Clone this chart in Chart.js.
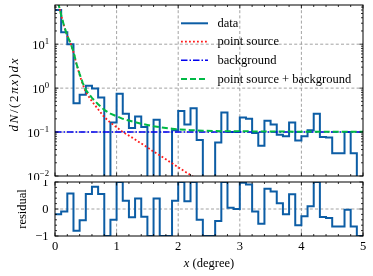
<!DOCTYPE html>
<html>
<head>
<meta charset="utf-8">
<script src="https://cdn.jsdelivr.net/npm/chart.js@4/dist/chart.umd.min.js"></script>
<style>
html, body { margin: 0; padding: 0; background: #fff; }
#wrap { position: relative; width: 373px; height: 276px; }
#top { position: absolute; left: 0; top: 0; }
#bot { position: absolute; left: 0; top: 180px; }
</style>
</head>
<body>
<div id="wrap">
	<canvas id="top" width="373" height="180"></canvas>
	<canvas id="bot" width="373" height="96"></canvas>
</div>
<script>
// radial profile: data histogram against point source + flat background

var binWidth = 0.1;
var nBins = 50;
// left edges of the bins, plus the last right edge
var binEdges = [];
for (var i = 0; i <= nBins; i++) binEdges.push(+(i * binWidth).toFixed(1));

// dN/(2 pi x)dx per bin (0 = empty bin)
var dataValues = [60, 18.7, 10, 0.45, 0.71, 1.14, 0.98, 0.61, 0, 0.166,
	0.74, 0.26, 0.123, 0.226, 0.13, 0, 0.19, 0, 0, 0.11,
	0.30, 0.148, 0.35, 0.066, 0, 0, 0.058, 0.28, 0.1, 0.1,
	0.215, 0.2, 0.095, 0.049, 0.18, 0.148, 0.087, 0.08, 0.166, 0.064,
	0.08, 0.11, 0.26, 0.077, 0.075, 0.033, 0.033, 0.1, 0.033, 0];

// residual per bin, clipped to [-1, 1]
var residualValues = [-0.19, -0.09, 0.57, -0.81, -0.42, 0.56, 0.82, 0.56, -1, -0.4,
	1, 0.31, -0.31, 0.39, -0.29, -1, 0.39, -1, -1, 0.31,
	1, 0.29, 1, -0.4, -1, -1, -0.44, 1, 0.05, 0,
	0.97, 0.91, -0.09, -0.55, 0.75, 0.65, 0.21, -0.19, 0.55, -0.6,
	-0.27, 0.1, 1, -0.3, -0.33, -0.65, -0.65, -0.03, -0.65, -1];

// point source model
var psX = [0, 0.05, 0.1, 0.15, 0.2, 0.25, 0.3, 0.35, 0.4, 0.45, 0.5, 0.55, 0.6, 0.7, 0.8, 0.9,
	1.0, 1.1, 1.2, 1.3, 1.4, 1.5, 1.6, 1.7, 1.8, 1.9, 2.0, 2.1, 2.2, 2.3, 2.4];
var psY = [140, 89, 46, 25, 15.5, 10.7, 6.6, 3.45, 2.0, 1.22, 0.81, 0.64, 0.5, 0.33, 0.22, 0.163,
	0.129, 0.1, 0.083, 0.068, 0.055, 0.045, 0.036, 0.0295, 0.024, 0.0195, 0.0158, 0.0129, 0.0105, 0.0085, 0.0069];

// background model
var bgX = [0, 5];
var bgY = [0.1, 0.1];

// point source + background
var totX = [0, 0.05, 0.1, 0.15, 0.2, 0.25, 0.3, 0.35, 0.4, 0.45, 0.5, 0.55, 0.6, 0.7, 0.8, 0.9,
	1.0, 1.1, 1.2, 1.3, 1.4, 1.5, 1.6, 1.7, 1.8, 1.9, 2.0, 2.2, 2.4, 2.7, 3.0, 3.5, 4.0, 4.5, 5.0];
var totY = [140.1, 89.1, 46.1, 25.1, 15.6, 10.8, 6.7, 3.55, 2.1, 1.32, 0.91, 0.74, 0.6, 0.43, 0.32, 0.263,
	0.229, 0.2, 0.183, 0.168, 0.155, 0.145, 0.136, 0.1295, 0.124, 0.1195, 0.1158, 0.1105, 0.107, 0.105, 0.104, 0.103, 0.102, 0.1015, 0.101];

var xTickLabels = ['0', '1', '2', '3', '4', '5'];

var SERIF = '"Liberation Serif", "Times New Roman", serif';
var FS = 12.5;
var C_DATA = '#0C5DA5', C_PS = '#ff1a1a', C_BG = '#0000ee', C_TOT = '#00B945';

function fnt(size, italic) { return (italic ? 'italic ' : '') + size + 'px ' + SERIF; }

function stepPoints(values, floor) {
	var pts = values.map(function (v, i) {
		return { x: binEdges[i], y: (floor !== undefined && v <= 0) ? floor : v };
	});
	pts.push({ x: binEdges[nBins], y: pts[pts.length - 1].y });
	return pts;
}

function zip(xs, ys) { return xs.map(function (x, i) { return { x: x, y: ys[i] }; }); }

// tick positions
var xMajor = [0, 1, 2, 3, 4, 5];
var xMinor = [];
for (var k = 0; k <= 25; k++) { var v = +(k * 0.2).toFixed(1); if (xMajor.indexOf(v) < 0) xMinor.push(v); }
var logMajor = [0.01, 0.1, 1, 10];
var logMinor = [];
[0.01, 0.1, 1, 10].forEach(function (d) { for (var m = 2; m <= 9; m++) if (m * d <= 78) logMinor.push(m * d); });
var resMajor = [-1, 0, 1];
var resMinor = [-0.8, -0.6, -0.4, -0.2, 0.2, 0.4, 0.6, 0.8];

function drawGrid(chart, xs, ys) {
	var ctx = chart.ctx, a = chart.chartArea;
	ctx.save();
	ctx.strokeStyle = '#8c8c8c';
	ctx.lineWidth = 0.8;
	ctx.setLineDash([3, 2.2]);
	ctx.beginPath();
	xs.forEach(function (v) { var p = chart.scales.x.getPixelForValue(v); ctx.moveTo(p, a.top); ctx.lineTo(p, a.bottom); });
	ys.forEach(function (v) { var p = chart.scales.y.getPixelForValue(v); ctx.moveTo(a.left, p); ctx.lineTo(a.right, p); });
	ctx.stroke();
	ctx.restore();
}

function drawFrame(chart, yMaj, yMin) {
	var ctx = chart.ctx, a = chart.chartArea, sx = chart.scales.x, sy = chart.scales.y;
	ctx.save();
	ctx.strokeStyle = '#000';
	ctx.lineWidth = 0.8;
	ctx.beginPath();
	function tv(p, len) { ctx.moveTo(p, a.bottom); ctx.lineTo(p, a.bottom - len); ctx.moveTo(p, a.top); ctx.lineTo(p, a.top + len); }
	function th(p, len) { ctx.moveTo(a.left, p); ctx.lineTo(a.left + len, p); ctx.moveTo(a.right, p); ctx.lineTo(a.right - len, p); }
	xMajor.forEach(function (v) { tv(sx.getPixelForValue(v), 3.5); });
	xMinor.forEach(function (v) { tv(sx.getPixelForValue(v), 2); });
	yMaj.forEach(function (v) { th(sy.getPixelForValue(v), 3.5); });
	yMin.forEach(function (v) { th(sy.getPixelForValue(v), 2); });
	ctx.stroke();
	ctx.lineWidth = 1;
	ctx.strokeRect(a.left, a.top, a.right - a.left, a.bottom - a.top);
	ctx.restore();
}

// text made of runs [text, italic, size, rise, extra gap after]
function runsWidth(ctx, runs) {
	var w = 0;
	runs.forEach(function (r) { ctx.font = fnt(r[2] || FS, r[1]); w += ctx.measureText(r[0]).width + (r[4] || 0); });
	return w;
}
function drawRuns(ctx, runs, x0, base) {
	var x = x0;
	runs.forEach(function (r) {
		ctx.font = fnt(r[2] || FS, r[1]);
		ctx.fillText(r[0], x, base - (r[3] || 0));
		x += ctx.measureText(r[0]).width + (r[4] || 0);
	});
}

var topPlugin = {
	id: 'topDecor',
	beforeDatasetsDraw: function (chart) { drawGrid(chart, [1, 2, 3, 4], [0.1, 1, 10]); },
	afterDatasetsDraw: function (chart) {
		var ctx = chart.ctx, sy = chart.scales.y;
		drawFrame(chart, logMajor, logMinor);
		ctx.save();
		ctx.fillStyle = '#000';
		ctx.textBaseline = 'alphabetic';
		ctx.textAlign = 'left';
		// y tick labels 10^n
		var exps = ['\u22122', '\u22121', '0', '1'];
		logMajor.forEach(function (v, i) {
			var p = sy.getPixelForValue(v);
			var runs = [['10', false, FS, 0], [exps[i], false, FS * 0.7, 5]];
			var w = runsWidth(ctx, runs);
			drawRuns(ctx, runs, 49 - w, p + 4.5);
		});
		// y title, spread to the reference length
		ctx.save();
		ctx.translate(14, 95);
		ctx.rotate(-Math.PI / 2);
		var yt = [['d', true, 13], ['N', true, 13], ['/', false, 13], ['(', false, 13], ['2', false, 13],
			['\u03c0', true, 13], ['x', true, 13], [')', false, 13], ['d', true, 13], ['x', true, 13]];
		var tw = runsWidth(ctx, yt);
		var gap = Math.max(0, (73 - tw) / (yt.length - 1));
		yt.forEach(function (r, j) { if (j < yt.length - 1) r[4] = gap; });
		tw = runsWidth(ctx, yt);
		drawRuns(ctx, yt, -tw / 2, 4);
		ctx.restore();
		// legend
		var items = [
			['data', C_DATA, 2, []],
			['point source', C_PS, 1.8, [1.8, 2.2]],
			['background', C_BG, 1.6, [6.5, 2, 1.5, 2]],
			['point source + background', C_TOT, 2, [6, 3]]
		];
		var rows = [23.3, 41.7, 60.3, 79];
		items.forEach(function (it, i) {
			ctx.save();
			ctx.strokeStyle = it[1];
			ctx.lineWidth = it[2];
			ctx.setLineDash(it[3]);
			ctx.beginPath();
			ctx.moveTo(181, rows[i]);
			ctx.lineTo(208, rows[i]);
			ctx.stroke();
			ctx.restore();
			ctx.font = fnt(FS, false);
			ctx.textBaseline = 'middle';
			ctx.fillText(it[0], 217.5, rows[i] + 0.5);
		});
		ctx.restore();
	}
};

var botPlugin = {
	id: 'botDecor',
	beforeDatasetsDraw: function (chart) { drawGrid(chart, [1, 2, 3, 4], [0]); },
	afterDatasetsDraw: function (chart) {
		var ctx = chart.ctx, sx = chart.scales.x, sy = chart.scales.y;
		drawFrame(chart, resMajor, resMinor);
		ctx.save();
		ctx.fillStyle = '#000';
		ctx.font = fnt(FS, false);
		ctx.textAlign = 'right';
		ctx.textBaseline = 'middle';
		['\u22121', '0', '1'].forEach(function (t, i) { ctx.fillText(t, 48.5, sy.getPixelForValue(resMajor[i]) + 0.5); });
		ctx.textAlign = 'center';
		ctx.textBaseline = 'alphabetic';
		xTickLabels.forEach(function (t, i) { ctx.fillText(t, sx.getPixelForValue(xMajor[i]), 69.5); });
		// x title
		ctx.textAlign = 'left';
		var xt = [['x', true], [' (degree)', false]];
		var w = runsWidth(ctx, xt);
		drawRuns(ctx, xt, 209 - w / 2, 87);
		// residual title
		ctx.save();
		ctx.translate(22, 29);
		ctx.rotate(-Math.PI / 2);
		ctx.font = fnt(FS, false);
		ctx.textAlign = 'center';
		ctx.fillText('residual', 0, 4);
		ctx.restore();
		ctx.restore();
	}
};

Chart.defaults.font.family = SERIF;

function lineDs(pts, color, width, dash, order, stepped) {
	return {
		data: pts, borderColor: color, borderWidth: width, borderDash: dash,
		pointRadius: 0, fill: false, tension: 0, stepped: stepped || false, order: order
	};
}

try {
	new Chart(document.getElementById('top'), {
		type: 'line',
		data: {
			datasets: [
				lineDs(stepPoints(dataValues, 1e-4), C_DATA, 2, [], 4, 'before'),
				lineDs(zip(psX, psY), C_PS, 1.8, [1.8, 2.2], 3),
				lineDs(zip(bgX, bgY), C_BG, 1.6, [6.5, 2, 1.5, 2], 2),
				lineDs(zip(totX, totY), C_TOT, 2, [6, 3], 1)
			]
		},
		options: {
			responsive: false, animation: false, devicePixelRatio: 1,
			layout: { padding: { left: 55, right: 10, top: 5, bottom: 4 } },
			plugins: { legend: { display: false }, tooltip: { enabled: false } },
			scales: {
				x: { type: 'linear', min: 0, max: 5, display: false },
				y: { type: 'logarithmic', min: 0.01, max: 78, display: false }
			}
		},
		plugins: [topPlugin]
	});

	new Chart(document.getElementById('bot'), {
		type: 'line',
		data: {
			datasets: [lineDs(stepPoints(residualValues), C_DATA, 2, [], 1, 'before')]
		},
		options: {
			responsive: false, animation: false, devicePixelRatio: 1,
			layout: { padding: { left: 55, right: 10, top: 2, bottom: 40 } },
			plugins: { legend: { display: false }, tooltip: { enabled: false } },
			scales: {
				x: { type: 'linear', min: 0, max: 5, display: false },
				y: { type: 'linear', min: -1, max: 1, display: false }
			}
		},
		plugins: [botPlugin]
	});
} catch (e) {
	console.log('chart failed', e);
}
</script>
</body>
</html>
